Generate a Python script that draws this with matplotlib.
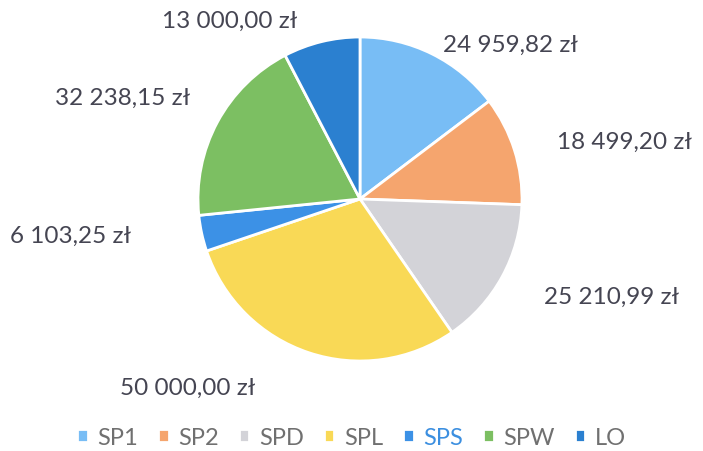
import numpy as np
import matplotlib.pyplot as plt

# Dane: kwoty dla poszczególnych jednostek
categories = ["SP1", "SP2", "SPD", "SPL", "SPS", "SPW", "LO"]
values = [24959.82, 18499.20, 25210.99, 50000.00, 6103.25, 32238.15, 13000.00]
colors = ["#78bdf5", "#f5a56e", "#d3d3d8", "#f9d956", "#3c91e6", "#7cbf62", "#2b80d0"]

# przesunięcia etykiet (w pikselach) względem krawędzi wycinka
label_offsets = [(78, 10), (110, 9), (109, -20), (-121, -35), (-131, -2), (-95, 25), (-92, 21)]


def fmt(v):
    s = f"{v:,.2f}".replace(",", " ").replace(".", ",")
    return s + " zł"


plt.rcParams['font.family'] = ['Lato', 'DejaVu Sans']

fig = plt.figure(figsize=(7.03, 4.52), dpi=100)
ax = fig.add_axes([0, 0, 1, 1])

cx, cy, r = 360, 252, 162
wedges, _ = ax.pie(values, colors=colors, startangle=90, counterclock=False,
                   center=(cx, cy), radius=r,
                   wedgeprops=dict(edgecolor="white", linewidth=2))
ax.set_xlim(0, 703)
ax.set_ylim(0, 452)
ax.set_aspect("equal")
ax.axis("off")

for w, v, off in zip(wedges, values, label_offsets):
    ang = np.deg2rad((w.theta1 + w.theta2) / 2)
    x = cx + r * np.cos(ang)
    y = cy + r * np.sin(ang)
    ax.annotate(fmt(v), xy=(x, y), xytext=off, textcoords="offset pixels",
                ha="center", va="center", fontsize=17.5, color="#454552")

leg = ax.legend(wedges, categories, loc="lower center", bbox_to_anchor=(0.5, -0.04),
                ncol=7, frameon=False, fontsize=17, handlelength=0.45, handleheight=0.45,
                handletextpad=0.4, columnspacing=0.85)
for t in leg.get_texts():
    t.set_color("#707070")
leg.get_texts()[4].set_color("#3c8fe0")

fig.savefig("out.png", dpi=100)
